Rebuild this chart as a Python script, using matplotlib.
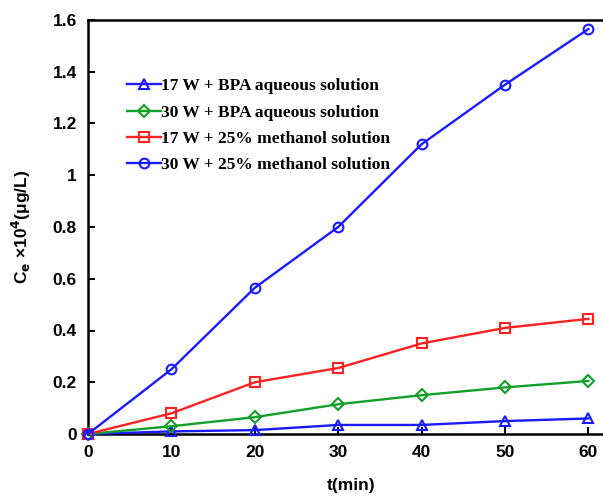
import numpy as np
import matplotlib
matplotlib.use("Agg")
import matplotlib.pyplot as plt

# data
t_min = [0, 10, 20, 30, 40, 50, 60]
w17_aqueous = [0, 0.01, 0.015, 0.035, 0.035, 0.05, 0.06]
w30_aqueous = [0, 0.03, 0.065, 0.115, 0.15, 0.18, 0.205]
w17_methanol = [0, 0.08, 0.20, 0.255, 0.35, 0.41, 0.445]
w30_methanol = [0, 0.25, 0.565, 0.80, 1.12, 1.35, 1.565]

labels = ["17 W + BPA aqueous solution", "30 W + BPA aqueous solution",
          "17 W + 25% methanol solution", "30 W + 25% methanol solution"]
series = [w17_aqueous, w30_aqueous, w17_methanol, w30_methanol]
colors = ["#1a1aff", "#12a02a", "#ff2020", "#1a1aff"]
markers = ["^", "D", "s", "o"]
msizes = [7.5, 6, 7.5, 7]

fig = plt.figure(figsize=(6.03, 4.99), dpi=100)
ax = fig.add_axes([88 / 603, 1 - 434 / 499, 1 - 88 / 603 + 0.02, (434 - 20) / 499])

for y, lab, c, m, ms in zip(series, labels, colors, markers, msizes):
    ax.plot(t_min, y, "-", color=c, lw=1.7, marker=m, ms=ms, mfc="none",
            mec=c, mew=1.5, label=lab, clip_on=False, zorder=3)

ax.set_xlim(0, 63.2)
ax.set_ylim(0, 1.6)
ax.set_xticks(t_min)
ax.set_yticks([0, 0.2, 0.4, 0.6, 0.8, 1.0, 1.2, 1.4, 1.6])
ax.set_yticklabels(["0", "0.2", "0.4", "0.6", "0.8", "1", "1.2", "1.4", "1.6"])
ax.tick_params(direction="in", length=5, width=1.5, labelsize=12.5, pad=8)
for lab in ax.get_xticklabels() + ax.get_yticklabels():
    lab.set_fontweight("bold")
    lab.set_family("Liberation Sans")
for s in ["left", "bottom", "top"]:
    ax.spines[s].set_linewidth(1.8)
ax.spines["right"].set_visible(False)

ax.set_xlabel("t(min)", fontsize=12.5, fontweight="bold", family="Liberation Sans",
              labelpad=13)
ax.set_ylabel(r"C$_\mathbf{e}$ ×10$^\mathbf{4}$(μg/L)", fontsize=12.5,
              fontweight="bold", family="Liberation Sans", labelpad=14)

leg = ax.legend(loc="upper left", bbox_to_anchor=(0.06, 0.876), frameon=False,
                prop={"family": "Liberation Serif", "weight": "bold", "size": 12.5},
                handlelength=2.0, handletextpad=0.0, labelspacing=0.58,
                borderaxespad=0)

fig.savefig("out.png", dpi=100)
